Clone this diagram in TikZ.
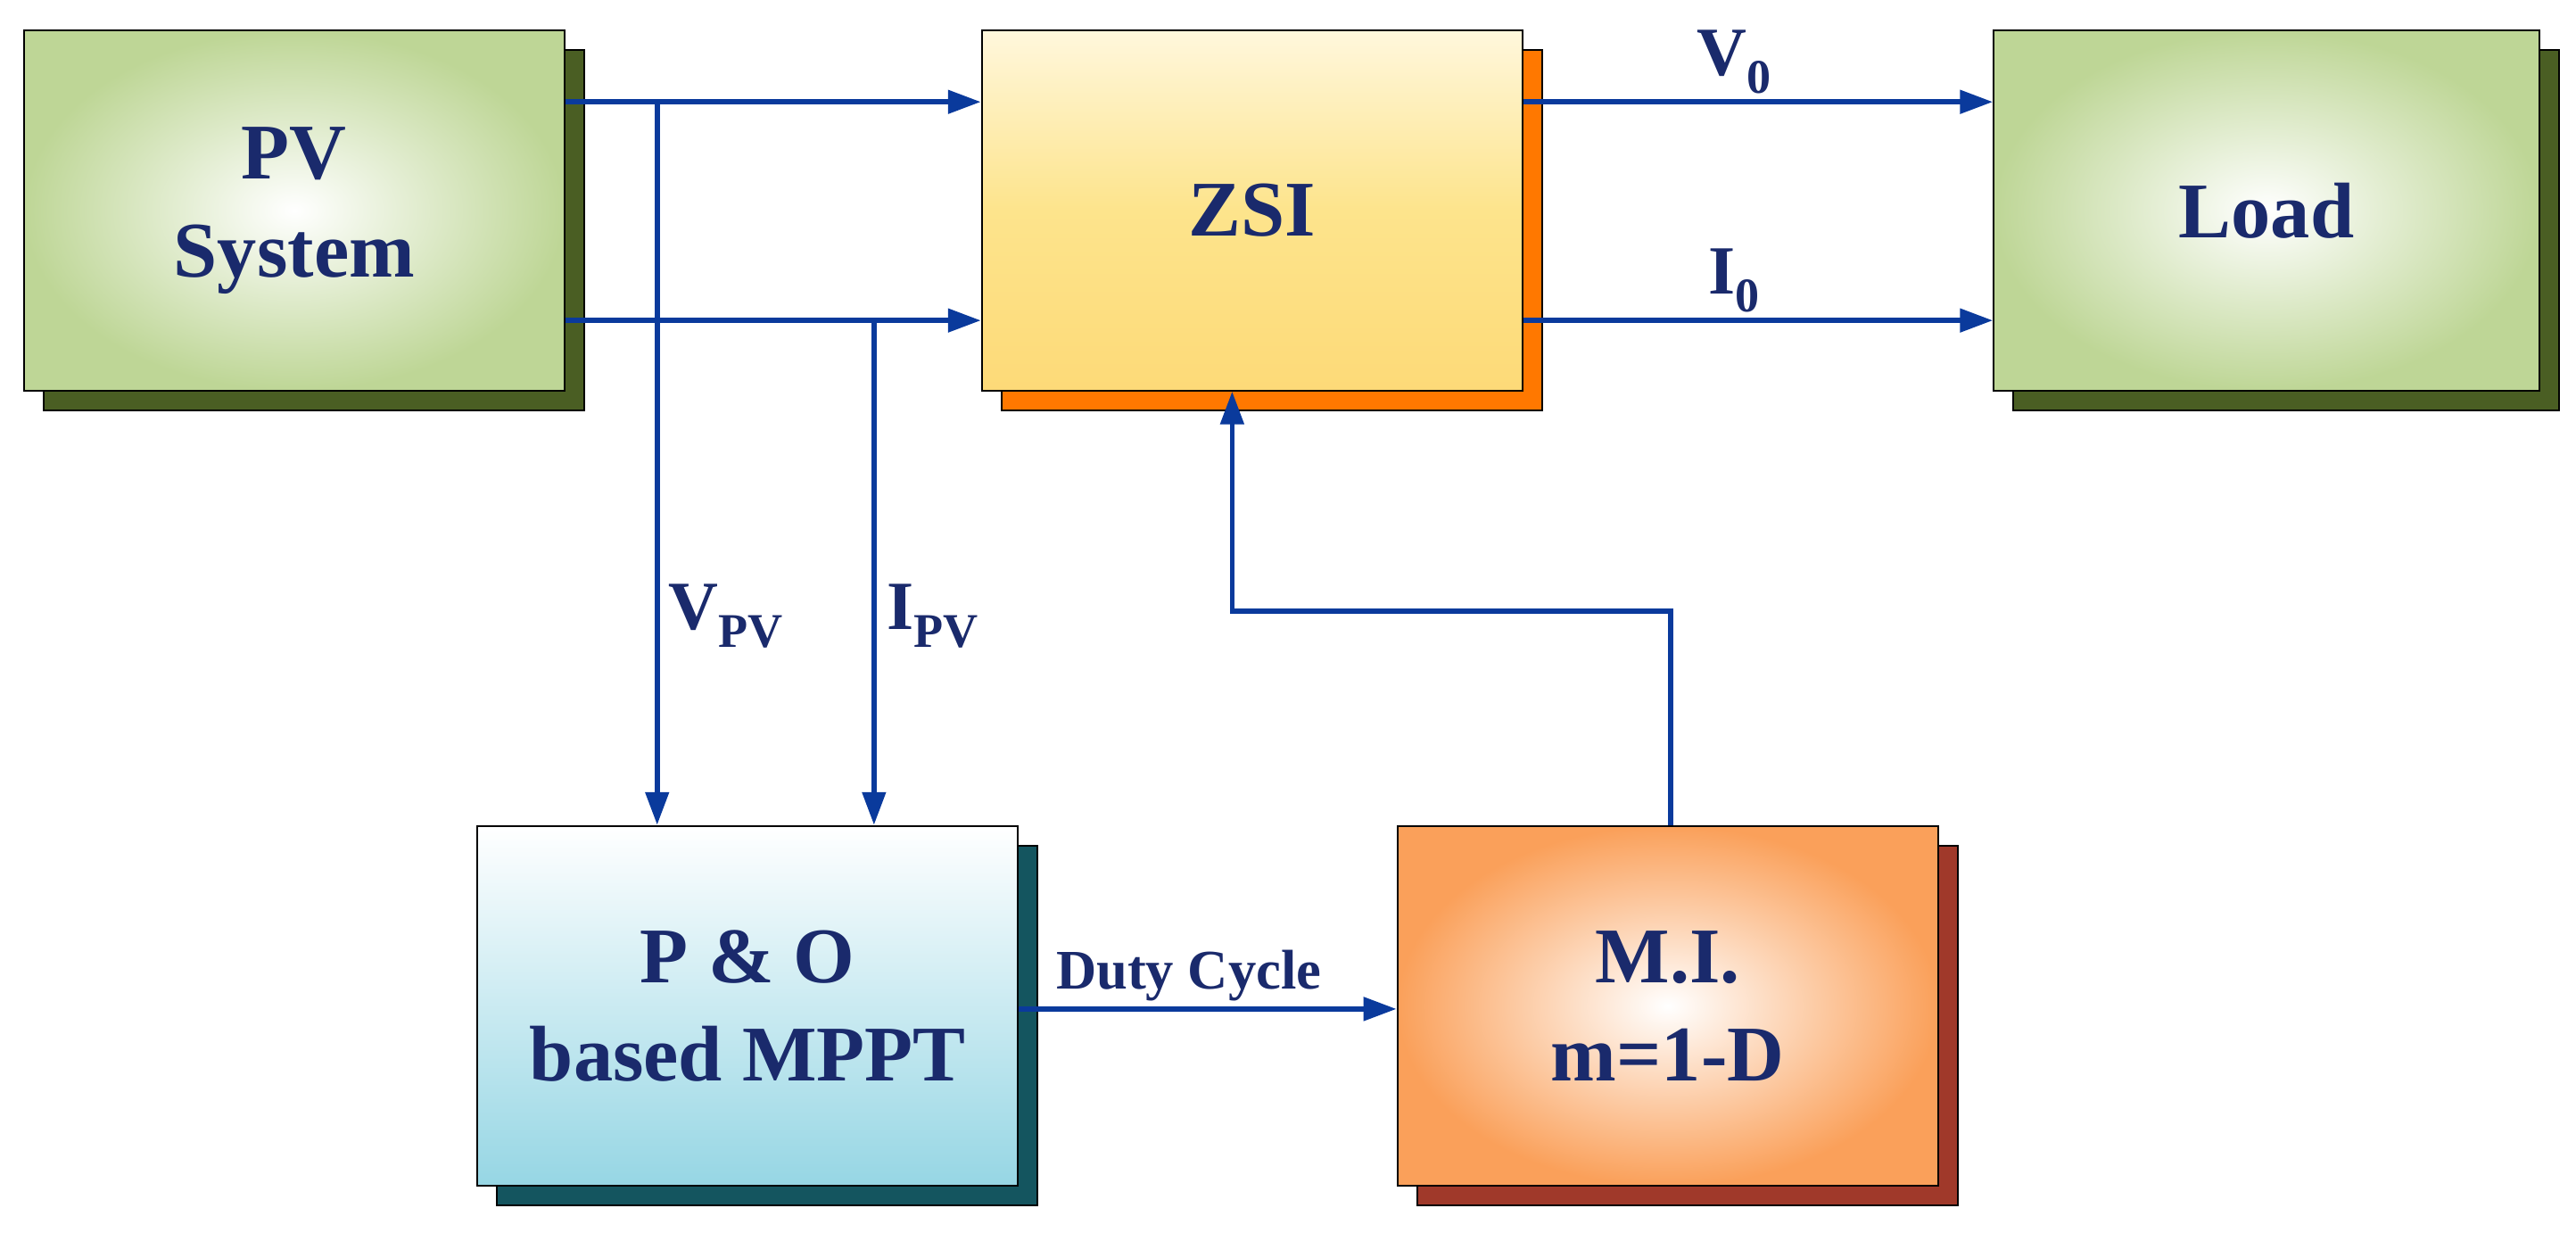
\documentclass[tikz,border=0pt]{standalone}
\usepackage{fontspec}
\setmainfont{Liberation Serif}
\usetikzlibrary{arrows.meta}
\definecolor{txt}{HTML}{1A2A6C}
\definecolor{ln}{HTML}{0A3A9C}
\begin{document}
\begin{tikzpicture}[x=1pt,y=-1pt,
  box/.style={draw=black,line width=1.2pt,minimum width=329pt,minimum height=219pt,anchor=north west,
    text=txt,font=\fontsize{48}{60}\selectfont\bfseries,align=center},
  sh/.style={draw=black,line width=1.2pt,minimum width=329pt,minimum height=219pt,anchor=north west},
  ar/.style={draw=ln,line width=3pt,-{Triangle[length=20pt,width=14pt]}},
  ln/.style={draw=ln,line width=3pt},
  lab/.style={text=txt,font=\fontsize{42}{46}\selectfont\bfseries}]
\useasboundingbox (0,0) rectangle (1568,750);
% shadows
\node[sh,fill={rgb,255:red,74;green,94;blue,35}] at (26,30) {};
\node[sh,fill={rgb,255:red,255;green,120;blue,0}] at (609,30) {};
\node[sh,fill={rgb,255:red,74;green,94;blue,35},minimum width=332pt] at (1225,30) {};
\node[sh,fill={rgb,255:red,20;green,85;blue,95}] at (302,514) {};
\node[sh,fill={rgb,255:red,160;green,57;blue,42}] at (862,514) {};
% boxes
\node[box,inner color=white,outer color={rgb,255:red,190;green,214;blue,150}] (pv) at (14,18) {PV\\System};
\node[box,top color={rgb,255:red,255;green,247;blue,220},bottom color={rgb,255:red,253;green,218;blue,120},middle color={rgb,255:red,253;green,228;blue,140}] (zsi) at (597,18) {ZSI};
\node[box,minimum width=332pt,inner color=white,outer color={rgb,255:red,190;green,214;blue,150}] (load) at (1213,18) {Load};
\node[box,top color=white,bottom color={rgb,255:red,150;green,214;blue,228}] (po) at (290,502) {P \& O\\based MPPT};
\node[box,inner color=white,outer color={rgb,255:red,250;green,160;blue,90}] (mi) at (850,502) {M.I.\\m=1-D};
% connectors
\coordinate (a1) at (400,62); \coordinate (a2) at (532,195);
\draw[ar] (pv.east |- a1) -- (zsi.west |- a1);
\draw[ar] (pv.east |- a2) -- (zsi.west |- a2);
\draw[ar] (a1) -- (a1 |- po.north);
\draw[ar] (a2) -- (a2 |- po.north);
\draw[ar] (zsi.east |- a1) -- node[lab,above,pos=0.45]{V$_\mathbf{0}$} (load.west |- a1);
\draw[ar] (zsi.east |- a2) -- node[lab,above,pos=0.45]{I$_\mathbf{0}$} (load.west |- a2);
\coordinate (m1) at (1017,372); \coordinate (m2) at (750,372);
\draw[ar] (m1 |- mi.north) -- (m1) -- (m2) -- (m2 |- zsi.south);
\coordinate (d) at (0,614);
\draw[ar] (po.east |- d) -- node[above,pos=0.45,text=txt,font=\fontsize{34}{38}\selectfont\bfseries]{Duty Cycle} (mi.west |- d);
\node[lab] (vpv) at (442,375) {V\textsubscript{PV}};
\node[lab] (ipv) at (568,375) {I\textsubscript{PV}};
\end{tikzpicture}
\end{document}
